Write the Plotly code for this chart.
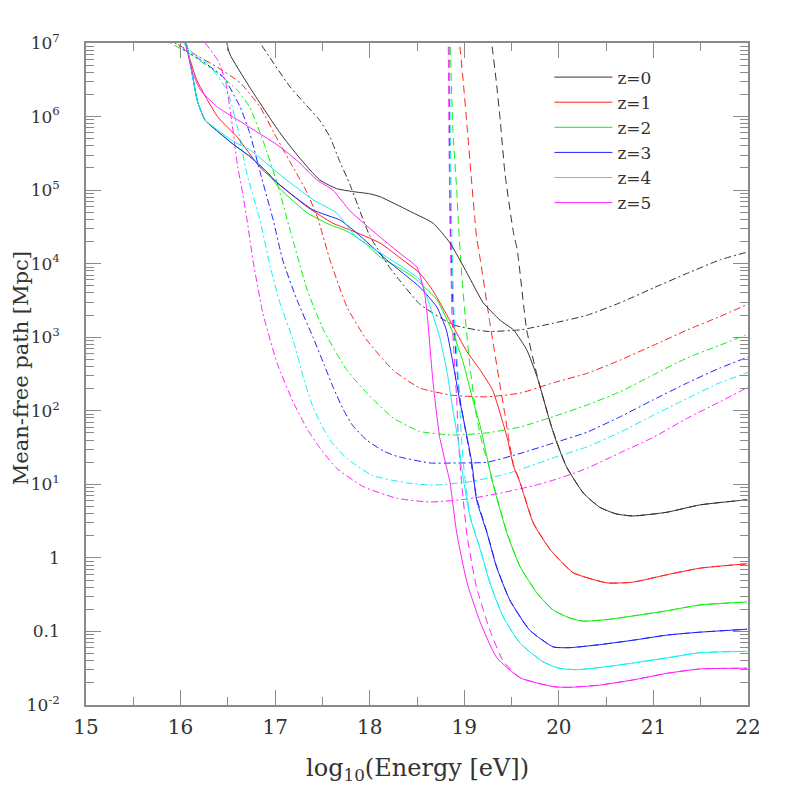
import plotly.graph_objects as go

# ---------------- data (log10 energy [eV], log10 mean-free path [Mpc]) ----------------
# z = 0
E0_tot = [16.47, 16.49, 16.52, 16.73, 17.05, 17.25, 17.47, 17.65, 17.82, 18.0, 18.11, 18.32, 18.46, 18.67,
          18.85, 19.03, 19.20, 19.38, 19.52, 19.66, 19.77, 19.91, 19.98, 20.08, 20.26, 20.43, 20.6, 20.78,
          21.14, 21.49, 21.99]
L0_tot = [7.2, 7.0, 6.85, 6.40, 5.78, 5.45, 5.14, 5.02, 4.98, 4.95, 4.91, 4.78, 4.69, 4.55,
          4.28, 3.87, 3.47, 3.23, 3.10, 2.83, 2.46, 1.83, 1.56, 1.24, 0.88, 0.69, 0.60, 0.57,
          0.62, 0.72, 0.79]
E0_pair = [16.68, 16.84, 17.16, 17.47, 17.58, 17.68, 17.79, 18.0, 18.21, 18.30, 18.53, 18.88, 19.24, 19.59,
           19.94, 20.30, 20.65, 21.0, 21.36, 21.70, 22.0]
L0_pair = [7.3, 7.0, 6.40, 5.95, 5.72, 5.40, 5.08, 4.38, 3.95, 3.80, 3.45, 3.17, 3.08, 3.10,
           3.19, 3.30, 3.47, 3.67, 3.87, 4.05, 4.16]
E0_pion = [19.26, 19.29, 19.34, 19.38, 19.43, 19.52, 19.56, 19.66, 19.77, 19.91, 19.98, 20.08, 20.26, 20.43,
           20.6, 20.78, 21.14, 21.49, 21.99]
L0_pion = [7.3, 7.0, 6.46, 5.95, 5.23, 4.42, 4.19, 3.10, 2.48, 1.84, 1.57, 1.24, 0.88, 0.69,
           0.60, 0.57, 0.62, 0.72, 0.79]

# z = 1
E1_tot = [16.02, 16.05, 16.17, 16.39, 16.60, 16.84, 17.08, 17.34, 17.61, 17.79, 18.11, 18.32, 18.53, 18.67,
          18.85, 19.03, 19.17, 19.30, 19.41, 19.46, 19.52, 19.59, 19.73, 19.91, 20.15, 20.51, 20.78, 21.14,
          21.49, 21.99]
L1_tot = [7.2, 7.0, 6.50, 6.0, 5.72, 5.31, 5.04, 4.77, 4.55, 4.46, 4.28, 4.08, 3.87, 3.63,
          3.22, 2.80, 2.55, 2.28, 1.83, 1.60, 1.25, 1.02, 0.47, 0.11, -0.20, -0.34, -0.33, -0.23,
          -0.14, -0.08]
E1_pair = [15.85, 15.95, 16.13, 16.39, 16.63, 16.84, 17.02, 17.19, 17.34, 17.45, 17.58, 17.76, 17.97, 18.25,
           18.53, 18.88, 19.24, 19.59, 19.94, 20.30, 20.65, 21.0, 21.36, 21.70, 22.0]
L1_pair = [7.1, 7.0, 6.86, 6.67, 6.46, 6.13, 5.70, 5.31, 4.96, 4.62, 4.05, 3.41, 2.96, 2.55,
           2.31, 2.21, 2.19, 2.24, 2.38, 2.51, 2.69, 2.89, 3.10, 3.28, 3.45]
E1_pion = [18.93, 18.95, 18.99, 19.03, 19.07, 19.11, 19.13, 19.17, 19.27, 19.30, 19.38, 19.43, 19.47, 19.52,
           19.59, 19.73, 19.91, 20.15, 20.51, 20.78, 21.14, 21.49, 21.99]
L1_pion = [7.3, 7.0, 6.46, 5.86, 5.23, 4.63, 4.36, 4.05, 3.20, 2.96, 2.33, 1.95, 1.62, 1.27,
           1.03, 0.48, 0.11, -0.20, -0.34, -0.33, -0.23, -0.14, -0.08]

# z = 2
E2_tot = [16.02, 16.06, 16.12, 16.18, 16.26, 16.39, 16.56, 16.73, 16.91, 17.05, 17.34, 17.58, 17.76, 17.95,
          18.11, 18.30, 18.46, 18.53, 18.71, 18.88, 18.99, 19.09, 19.17, 19.24, 19.30, 19.45, 19.59, 19.77,
          19.94, 20.12, 20.26, 20.50, 20.78, 21.14, 21.49, 21.99]
L2_tot = [7.2, 7.0, 6.6, 6.2, 5.95, 5.80, 5.62, 5.46, 5.25, 5.02, 4.69, 4.53, 4.44, 4.28,
          4.09, 3.95, 3.82, 3.74, 3.51, 3.06, 2.65, 2.15, 1.78, 1.37, 1.02, 0.34, -0.12, -0.48,
          -0.71, -0.82, -0.86, -0.84, -0.79, -0.72, -0.64, -0.60]
E2_pair = [15.8, 15.89, 16.10, 16.39, 16.60, 16.73, 16.87, 17.02, 17.16, 17.34, 17.51, 17.76, 18.0, 18.25,
           18.53, 18.88, 19.24, 19.59, 19.94, 20.30, 20.65, 21.0, 21.36, 21.70, 22.0]
L2_pair = [7.08, 7.0, 6.85, 6.59, 6.36, 6.13, 5.68, 5.10, 4.45, 3.64, 3.10, 2.55, 2.20, 1.90,
           1.72, 1.67, 1.70, 1.78, 1.92, 2.08, 2.26, 2.49, 2.72, 2.89, 3.04]
E2_pion = [18.84, 18.85, 18.88, 18.92, 18.94, 18.97, 19.01, 19.06, 19.13, 19.20, 19.25, 19.30, 19.45, 19.59,
           19.77, 19.94, 20.12, 20.26, 20.50, 20.78, 21.14, 21.49, 21.99]
L2_pion = [7.3, 7.0, 5.8, 5.0, 4.5, 3.9, 3.28, 2.60, 1.92, 1.50, 1.30, 1.04, 0.35, -0.12,
           -0.48, -0.71, -0.82, -0.86, -0.84, -0.79, -0.72, -0.64, -0.60]

# z = 3
E3_tot = [16.02, 16.06, 16.12, 16.18, 16.26, 16.39, 16.56, 16.73, 16.91, 17.02, 17.40, 17.69, 17.86, 18.18,
          18.53, 18.71, 18.81, 18.88, 18.95, 19.03, 19.08, 19.13, 19.24, 19.34, 19.48, 19.69, 19.94, 20.12,
          20.43, 20.78, 21.14, 21.49, 21.99]
L3_tot = [7.2, 7.0, 6.6, 6.2, 5.95, 5.80, 5.62, 5.46, 5.25, 5.10, 4.73, 4.59, 4.42, 4.05,
          3.68, 3.41, 3.10, 2.65, 2.15, 1.64, 1.29, 0.79, 0.34, -0.12, -0.57, -0.98, -1.21, -1.22,
          -1.18, -1.12, -1.05, -1.01, -0.97]
E3_pair = [15.9, 15.99, 16.21, 16.45, 16.63, 16.73, 16.84, 16.98, 17.08, 17.23, 17.40, 17.52, 17.62, 17.72,
           17.82, 17.97, 18.15, 18.29, 18.64, 18.88, 19.24, 19.59, 19.94, 20.30, 20.65, 21.0, 21.36, 21.70, 22.0]
L3_pair = [7.05, 6.95, 6.77, 6.54, 6.13, 5.78, 5.25, 4.59, 4.05, 3.51, 3.0, 2.62, 2.30, 2.02,
           1.80, 1.60, 1.45, 1.38, 1.29, 1.29, 1.30, 1.42, 1.56, 1.71, 1.92, 2.15, 2.38, 2.58, 2.73]
E3_pion = [18.83, 18.84, 18.85, 18.88, 18.92, 18.95, 19.01, 19.06, 19.13, 19.24, 19.34, 19.48, 19.69, 19.94,
           20.12, 20.43, 20.78, 21.14, 21.49, 21.99]
L3_pion = [7.3, 7.0, 4.77, 3.41, 2.6, 2.2, 1.75, 1.40, 0.82, 0.35, -0.11, -0.57, -0.98, -1.21,
           -1.22, -1.18, -1.12, -1.05, -1.01, -0.97]

# z = 4
E4_tot = [16.02, 16.06, 16.12, 16.18, 16.26, 16.39, 16.56, 16.73, 17.08, 17.40, 17.65, 17.86, 18.18, 18.53,
          18.64, 18.74, 18.82, 18.88, 18.94, 18.97, 19.06, 19.17, 19.27, 19.41, 19.59, 19.83, 20.00, 20.20,
          20.50, 20.78, 21.14, 21.49, 21.99]
L4_tot = [7.2, 7.0, 6.6, 6.2, 5.95, 5.82, 5.66, 5.55, 5.18, 4.87, 4.69, 4.36, 4.09, 3.78,
          3.41, 3.0, 2.51, 2.01, 1.56, 1.24, 0.56, 0.11, -0.34, -0.80, -1.16, -1.41, -1.50, -1.52,
          -1.48, -1.43, -1.36, -1.29, -1.27]
E4_pair = [16.0, 16.10, 16.28, 16.49, 16.60, 16.70, 16.84, 16.95, 17.05, 17.19, 17.30, 17.40, 17.50, 17.60,
           17.76, 18.03, 18.39, 18.67, 19.03, 19.38, 19.59, 19.94, 20.30, 20.65, 21.0, 21.36, 21.70, 22.0]
L4_pair = [7.05, 6.9, 6.73, 6.36, 5.86, 5.23, 4.59, 3.95, 3.47, 2.96, 2.45, 2.05, 1.78, 1.57,
           1.35, 1.12, 1.02, 0.99, 1.03, 1.12, 1.20, 1.36, 1.51, 1.71, 1.94, 2.17, 2.38, 2.52]
E4_pion = [18.83, 18.84, 18.85, 18.87, 18.89, 18.94, 18.97, 18.99, 19.06, 19.17, 19.27, 19.41, 19.59, 19.83,
           20.00, 20.20, 20.50, 20.78, 21.14, 21.49, 21.99]
L4_pion = [7.3, 7.0, 6.0, 4.3, 3.4, 2.38, 1.64, 1.29, 0.58, 0.12, -0.33, -0.80, -1.16, -1.41,
           -1.50, -1.52, -1.48, -1.43, -1.36, -1.29, -1.27]

# z = 5
E5_tot = [16.02, 16.05, 16.13, 16.21, 16.39, 16.66, 17.05, 17.25, 17.44, 17.61, 17.79, 18.11, 18.32, 18.50,
          18.58, 18.61, 18.67, 18.74, 18.80, 18.85, 18.92, 19.03, 19.17, 19.34, 19.59, 19.94, 20.10, 20.43,
          20.78, 21.14, 21.49, 21.99]
L5_tot = [7.2, 7.0, 6.59, 6.36, 6.13, 5.91, 5.59, 5.38, 5.14, 5.0, 4.72, 4.36, 4.14, 3.95,
          3.60, 3.28, 2.38, 1.64, 1.30, 1.02, 0.34, -0.34, -0.88, -1.35, -1.63, -1.75, -1.76, -1.73,
          -1.66, -1.57, -1.51, -1.50]
E5_pair = [16.15, 16.26, 16.40, 16.48, 16.54, 16.60, 16.65, 16.70, 16.77, 16.87, 17.02, 17.19, 17.34, 17.47,
           17.65, 17.93, 18.29, 18.64, 19.03, 19.38, 19.73, 20.0, 20.30, 20.65, 21.0, 21.36, 21.70, 22.0]
L5_pair = [7.15, 7.0, 6.75, 6.45, 5.95, 5.35, 5.0, 4.62, 4.01, 3.33, 2.65, 2.12, 1.75, 1.50,
           1.22, 0.97, 0.81, 0.76, 0.80, 0.88, 0.98, 1.08, 1.22, 1.43, 1.64, 1.90, 2.12, 2.32]
E5_pion = [18.82, 18.83, 18.84, 18.85, 18.86, 18.87, 18.89, 18.92, 18.94, 18.97, 19.03, 19.13, 19.27, 19.41,
           19.59, 19.94, 20.10, 20.43, 20.78, 21.14, 21.49, 21.99]
L5_pion = [7.3, 7.0, 5.5, 4.5, 3.87, 3.3, 2.8, 2.15, 1.55, 1.05, 0.30, -0.40, -0.98, -1.40,
           -1.63, -1.75, -1.76, -1.73, -1.66, -1.57, -1.51, -1.50]

labels = ["z=0", "z=1", "z=2", "z=3", "z=4", "z=5"]
colors = ["#333333", "#ff2020", "#10ee10", "#2020ff", "#10f0f0", "#ff20ff"]

series = [
    (E0_tot, L0_tot, E0_pair, L0_pair, E0_pion, L0_pion),
    (E1_tot, L1_tot, E1_pair, L1_pair, E1_pion, L1_pion),
    (E2_tot, L2_tot, E2_pair, L2_pair, E2_pion, L2_pion),
    (E3_tot, L3_tot, E3_pair, L3_pair, E3_pion, L3_pion),
    (E4_tot, L4_tot, E4_pair, L4_pair, E4_pion, L4_pion),
    (E5_tot, L5_tot, E5_pair, L5_pair, E5_pion, L5_pion),
]

x_ticks = [15, 16, 17, 18, 19, 20, 21, 22]
y_tickvals = [1e-2, 1e-1, 1, 1e1, 1e2, 1e3, 1e4, 1e5, 1e6, 1e7]
y_ticktext = ["10<sup>-2</sup>", "0.1", "1", "10<sup>1</sup>", "10<sup>2</sup>", "10<sup>3</sup>",
              "10<sup>4</sup>", "10<sup>5</sup>", "10<sup>6</sup>", "10<sup>7</sup>"]
x_title = "log<sub>10</sub>(Energy [eV])"
y_title = "Mean-free path [Mpc]"

FONT = "DejaVu Serif"
AX = "#8a8a8a"
TXT = "#333333"

fig = go.Figure()
for i, (et, lt, ep, lp, ei, li) in enumerate(series):
    c = colors[i]
    fig.add_trace(go.Scatter(x=ep, y=[10 ** v for v in lp], mode="lines", showlegend=False,
                             line=dict(color=c, width=1, dash="7px,3px,2px,3px", shape="spline", smoothing=0.5),
                             hoverinfo="skip"))
    fig.add_trace(go.Scatter(x=ei, y=[10 ** v for v in li], mode="lines", showlegend=False,
                             line=dict(color=c, width=1, dash="8px,5px", shape="spline", smoothing=0.5),
                             hoverinfo="skip"))
for i, (et, lt, ep, lp, ei, li) in enumerate(series):
    fig.add_trace(go.Scatter(x=et, y=[10 ** v for v in lt], mode="lines", name=labels[i],
                             line=dict(color=colors[i], width=1, shape="spline", smoothing=0.5)))

minor_y = []
for k in range(-2, 7):
    for m in range(2, 10):
        minor_y.append(m * 10 ** k)

fig.update_layout(
    width=789, height=789,
    margin=dict(l=78, r=49, t=35, b=92),
    paper_bgcolor="white", plot_bgcolor="white",
    font=dict(family=FONT, size=18, color=TXT),
    showlegend=True,
    legend=dict(x=0.70, y=0.975, xanchor="left", yanchor="top", bgcolor="rgba(0,0,0,0)",
                font=dict(family=FONT, size=17, color=TXT), tracegroupgap=0, itemwidth=58),
    annotations=[
        dict(text=x_title, xref="paper", yref="paper", x=0.5, y=-0.098, xanchor="center", yanchor="middle",
             showarrow=False, font=dict(family=FONT, size=24, color=TXT)),
        dict(text=y_title, xref="paper", yref="paper", x=-0.098, y=0.509, xanchor="center", yanchor="middle",
             textangle=-90, showarrow=False, font=dict(family=FONT, size=21, color=TXT)),
    ],
)
fig.update_xaxes(
    range=[15, 22], tickvals=x_ticks, ticktext=[str(v) for v in x_ticks],
    ticks="inside", ticklen=15, tickwidth=1, tickcolor=AX,
    minor=dict(dtick=0.5, ticks="inside", ticklen=8, tickwidth=1, tickcolor=AX, showgrid=False),
    showline=True, linecolor=AX, linewidth=1.5, mirror="allticks",
    showgrid=False, zeroline=False, ticklabelstandoff=3, automargin=False,
    tickfont=dict(family=FONT, size=20, color=TXT),
)
fig.update_yaxes(
    type="log", range=[-2, 7], tickvals=y_tickvals, ticktext=y_ticktext,
    ticks="inside", ticklen=15, tickwidth=1, tickcolor=AX,
    minor=dict(tickvals=minor_y, ticks="inside", ticklen=8, tickwidth=1, tickcolor=AX, showgrid=False),
    showline=True, linecolor=AX, linewidth=1.5, mirror="allticks",
    showgrid=False, zeroline=False, ticklabelstandoff=21, automargin=False,
    tickfont=dict(family=FONT, size=17, color=TXT),
)

fig.write_html("out.html")
